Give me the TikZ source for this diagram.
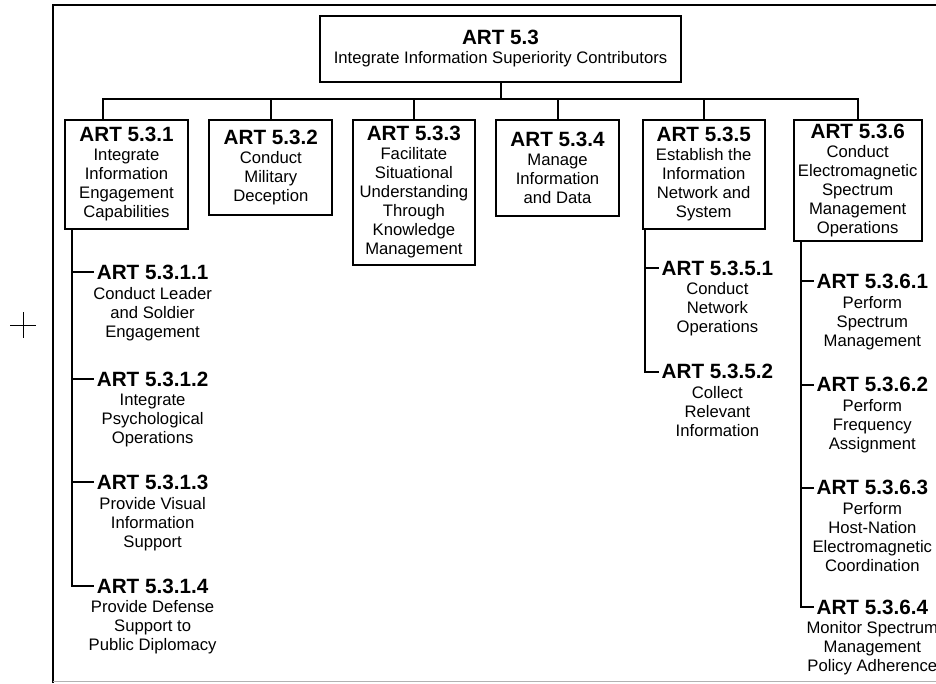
\documentclass[tikz,border=0pt]{standalone}
\usepackage{fontspec}
\setmainfont{Liberation Sans}
\usetikzlibrary{positioning}

\newcommand{\arthead}{\bfseries\fontsize{15.5}{14.25}\selectfont}
\newcommand{\artbody}{\fontsize{12.5}{14.25}\selectfont}

\begin{document}
\begin{tikzpicture}[x=0.75pt,y=-0.75pt,
    every node/.style={font=\artbody},
    artbox/.style={draw,line width=1.5pt,align=center,anchor=north,inner sep=0pt},
    subhead/.style={font=\arthead,inner xsep=2pt,inner ysep=0pt},
    subtext/.style={align=center,inner sep=0pt,below=5.25pt of #1},
    link/.style={line width=1.5pt}]
  \useasboundingbox (0,0) rectangle (936,683);
  \clip (0,0) rectangle (936,683);
  % frame and mark
  \draw[line width=1.6pt] (52.7,683) -- (52.7,5.3) -- (940,5.3);
  \draw[black!30,line width=0.75pt] (53,681.5) -- (940,681.5);
  \draw[line width=0.6pt] (10,325) -- (36,325) (23,312) -- (23,338);
  % boxes
  \path
    (500.5,15) node[artbox,minimum width=270.75pt,minimum height=49.5pt] (n53)
      {{\arthead ART 5.3}\\Integrate Information Superiority Contributors}
    (126.5,119) node[artbox,minimum width=92.25pt,minimum height=81.75pt] (n531)
      {{\arthead ART 5.3.1}\\Integrate\\Information\\Engagement\\Capabilities}
    (270.8,119) node[artbox,minimum width=92.25pt,minimum height=71.25pt] (n532)
      {{\arthead ART 5.3.2}\\Conduct\\Military\\Deception}
    (413.9,119) node[artbox,minimum width=91.7pt,minimum height=108.75pt] (n533)
      {{\arthead ART 5.3.3}\\Facilitate\\Situational\\Understanding\\Through\\Knowledge\\Management}
    (557.5,119) node[artbox,minimum width=92.25pt,minimum height=71.8pt] (n534)
      {{\arthead ART 5.3.4}\\Manage\\Information\\and Data}
    (703.7,119) node[artbox,minimum width=91.5pt,minimum height=81.75pt] (n535)
      {{\arthead ART 5.3.5}\\Establish the\\Information\\Network and\\System}
    (857.7,119) node[artbox,minimum width=96pt,minimum height=90.5pt] (n536)
      {{\arthead ART 5.3.6}\\Conduct\\Electromagnetic\\Spectrum\\Management\\Operations};
  % sub tasks
  \path
    (152.6,272.3) node[subhead] (n5311) {ART 5.3.1.1}
    (152.6,379) node[subhead] (n5312) {ART 5.3.1.2}
    (152.6,482.2) node[subhead] (n5313) {ART 5.3.1.3}
    (152.6,586) node[subhead] (n5314) {ART 5.3.1.4}
    (717.4,268) node[subhead] (n5351) {ART 5.3.5.1}
    (717.4,371.5) node[subhead] (n5352) {ART 5.3.5.2}
    (872.3,281.2) node[subhead] (n5361) {ART 5.3.6.1}
    (872.3,384.7) node[subhead] (n5362) {ART 5.3.6.2}
    (872.3,487.5) node[subhead] (n5363) {ART 5.3.6.3}
    (872.3,607) node[subhead] (n5364) {ART 5.3.6.4};
  \node[subtext=n5311] (d5311) {Conduct Leader\\and Soldier\\Engagement};
  \node[subtext=n5312] (d5312) {Integrate\\Psychological\\Operations};
  \node[subtext=n5313] (d5313) {Provide Visual\\Information\\Support};
  \node[subtext=n5314] (d5314) {Provide Defense\\Support to\\Public Diplomacy};
  \node[subtext=n5351] (d5351) {Conduct\\Network\\Operations};
  \node[subtext=n5352] (d5352) {Collect\\Relevant\\Information};
  \node[subtext=n5361] (d5361) {Perform\\Spectrum\\Management};
  \node[subtext=n5362] (d5362) {Perform\\Frequency\\Assignment};
  \node[subtext=n5363] (d5363) {Perform\\Host-Nation\\Electromagnetic\\Coordination};
  \node[subtext=n5364] (d5364) {Monitor Spectrum\\Management\\Policy Adherence};
  % connectors
  \begin{scope}[link]
    \coordinate (j531) at (103,99);
    \coordinate (v531) at (72,0);
    \coordinate (v535) at (645,0);
    \coordinate (v536) at (801,0);
    \draw (n53) -- (n53 |- j531);
    \draw (j531 |- n531.north) -- (j531) -- (j531 -| n536) -- (n536);
    \draw (n532 |- j531) -- (n532);
    \draw (n533 |- j531) -- (n533);
    \draw (n534 |- j531) -- (n534);
    \draw (n535 |- j531) -- (n535);
    \draw (n531.south -| v531) |- (n5311);
    \draw (n531.south -| v531) |- (n5312);
    \draw (n531.south -| v531) |- (n5313);
    \draw (n531.south -| v531) |- (n5314);
    \draw (n535.south -| v535) |- (n5351);
    \draw (n535.south -| v535) |- (n5352);
    \draw (n536.south -| v536) |- (n5361);
    \draw (n536.south -| v536) |- (n5362);
    \draw (n536.south -| v536) |- (n5363);
    \draw (n536.south -| v536) |- (n5364);
  \end{scope}
\end{tikzpicture}
\end{document}
